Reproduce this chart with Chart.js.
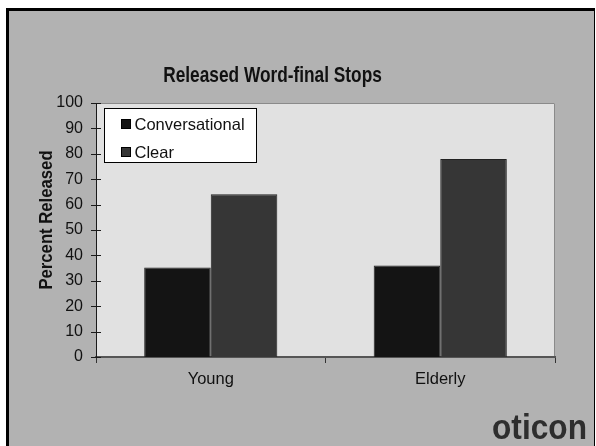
<!DOCTYPE html>
<html>
<head>
<meta charset="utf-8">
<script src="https://cdn.jsdelivr.net/npm/chart.js@4/dist/chart.umd.min.js"></script>
<style>
  html, body { margin: 0; padding: 0; background: #ffffff; width: 596px; height: 446px; overflow: hidden; }
  #frame { position: absolute; left: 6px; top: 8px; width: 585px; height: 460px;
           border-left: 3px solid #000; border-top: 3px solid #000; border-right: 1px solid #000;
           background: #b2b2b2; }
  #c { position: absolute; left: 0; top: 0; }
</style>
</head>
<body>
<div id="frame"></div>
<canvas id="c" width="596" height="446"></canvas>
<script>
const categories = ["Young", "Elderly"];
const seriesNames = ["Conversational", "Clear"];
const conversational = [35.2, 36.0];
const clear = [64.1, 78.0];
const yTicks = [0, 10, 20, 30, 40, 50, 60, 70, 80, 90, 100];
const chartTitle = "Released Word-final Stops";
const yTitle = "Percent Released";
const logoText = "oticon";

const FONT = "'Liberation Sans', Arial, sans-serif";

const plotBg = {
  id: 'plotBg',
  beforeDraw(chart) {
    const { ctx, chartArea: a } = chart;
    ctx.save();
    ctx.fillStyle = '#e1e1e1';
    ctx.fillRect(a.left, a.top, a.right - a.left, a.bottom - a.top);
    ctx.strokeStyle = '#8a8a8a';
    ctx.lineWidth = 1;
    ctx.beginPath();
    ctx.moveTo(a.left, a.top + 0.5);
    ctx.lineTo(a.right - 0.5, a.top + 0.5);
    ctx.lineTo(a.right - 0.5, a.bottom);
    ctx.stroke();
    ctx.restore();
  }
};

const extras = {
  id: 'extras',
  afterDraw(chart) {
    const { ctx, chartArea: a } = chart;
    const ys = chart.scales.y;
    ctx.save();
    // chart title
    ctx.save();
    ctx.fillStyle = '#111';
    ctx.font = 'bold 17.3px ' + FONT;
    ctx.textAlign = 'center';
    ctx.textBaseline = 'alphabetic';
    ctx.translate(272.5, 81.7);
    ctx.scale(1, 1.27);
    ctx.fillText(chartTitle, 0, 0);
    ctx.restore();

    // y axis title
    ctx.save();
    ctx.fillStyle = '#111';
    ctx.translate(51.7, 220);
    ctx.rotate(-Math.PI / 2);
    ctx.scale(1, 1.1);
    ctx.font = 'bold 16.7px ' + FONT;
    ctx.textAlign = 'center';
    ctx.textBaseline = 'alphabetic';
    ctx.fillText(yTitle, 0, 0);
    ctx.restore();

    // y tick marks crossing the axis
    ctx.strokeStyle = '#1a1a1a';
    ctx.lineWidth = 1;
    ctx.beginPath();
    yTicks.forEach(v => {
      const py = Math.round(ys.getPixelForValue(v)) + 0.5;
      ctx.moveTo(a.left - 5, py);
      ctx.lineTo(a.left + 5, py);
    });
    ctx.stroke();

    // legend box
    const lx = 104.5, ly = 108.5, lw = 152, lh = 54;
    ctx.fillStyle = '#ffffff';
    ctx.fillRect(lx, ly, lw, lh);
    ctx.strokeStyle = '#000000';
    ctx.strokeRect(lx, ly, lw, lh);
    const ds = chart.data.datasets;
    const rows = [124, 152];
    ds.forEach((d, i) => {
      const cy = rows[i];
      ctx.fillStyle = d.backgroundColor;
      ctx.fillRect(121, cy - 5, 10, 10);
      ctx.strokeStyle = '#000';
      ctx.strokeRect(121.5, cy - 4.5, 9, 9);
      ctx.fillStyle = '#111';
      ctx.font = '16.5px ' + FONT;
      ctx.textBaseline = 'alphabetic';
      ctx.textAlign = 'left';
      ctx.fillText(d.label, 134.5, cy + 6);
    });

    // logo
    ctx.font = 'bold 38px ' + FONT;
    const w = ctx.measureText(logoText).width;
    ctx.translate(492, 439);
    ctx.scale(95 / w, 0.92);
    ctx.fillStyle = '#2e2e2e';
    ctx.textBaseline = 'alphabetic';
    ctx.textAlign = 'left';
    ctx.fillText(logoText, 0, 0);
    ctx.restore();
  }
};

new Chart(document.getElementById('c'), {
  type: 'bar',
  data: {
    labels: categories,
    datasets: [
      { label: seriesNames[0], data: conversational, backgroundColor: '#141414', borderColor: '#222', borderWidth: 1 },
      { label: seriesNames[1], data: clear, backgroundColor: '#363636', borderColor: '#222', borderWidth: 1 }
    ]
  },
  options: {
    responsive: false,
    animation: false,
    devicePixelRatio: 1,
    layout: { padding: { left: 0, right: 41, top: 103, bottom: 0 } },
    datasets: { bar: { categoryPercentage: 0.58, barPercentage: 1.0 } },
    plugins: {
      legend: { display: false },
      tooltip: { enabled: false },
      title: { display: false }
    },
    scales: {
      x: {
        offset: true,
        grid: { display: true, drawOnChartArea: false, drawTicks: true, tickLength: 6, color: '#333', offset: true },
        border: { display: true, color: '#555', width: 2 },
        ticks: { color: '#111', font: { family: FONT, size: 16.5 }, padding: 7 },
        afterFit(s) { s.height = 89; }
      },
      y: {
        min: 0, max: 100,
        afterBuildTicks(s) { s.ticks = yTicks.map(v => ({ value: v })); },
        grid: { display: false, drawTicks: false },
        border: { display: true, color: '#1a1a1a', width: 1 },
        ticks: { color: '#111', font: { family: FONT, size: 16 }, padding: 13 },
        title: { display: false },
        afterFit(s) { s.width = 96; }
      }
    }
  },
  plugins: [plotBg, extras]
});
</script>
</body>
</html>
